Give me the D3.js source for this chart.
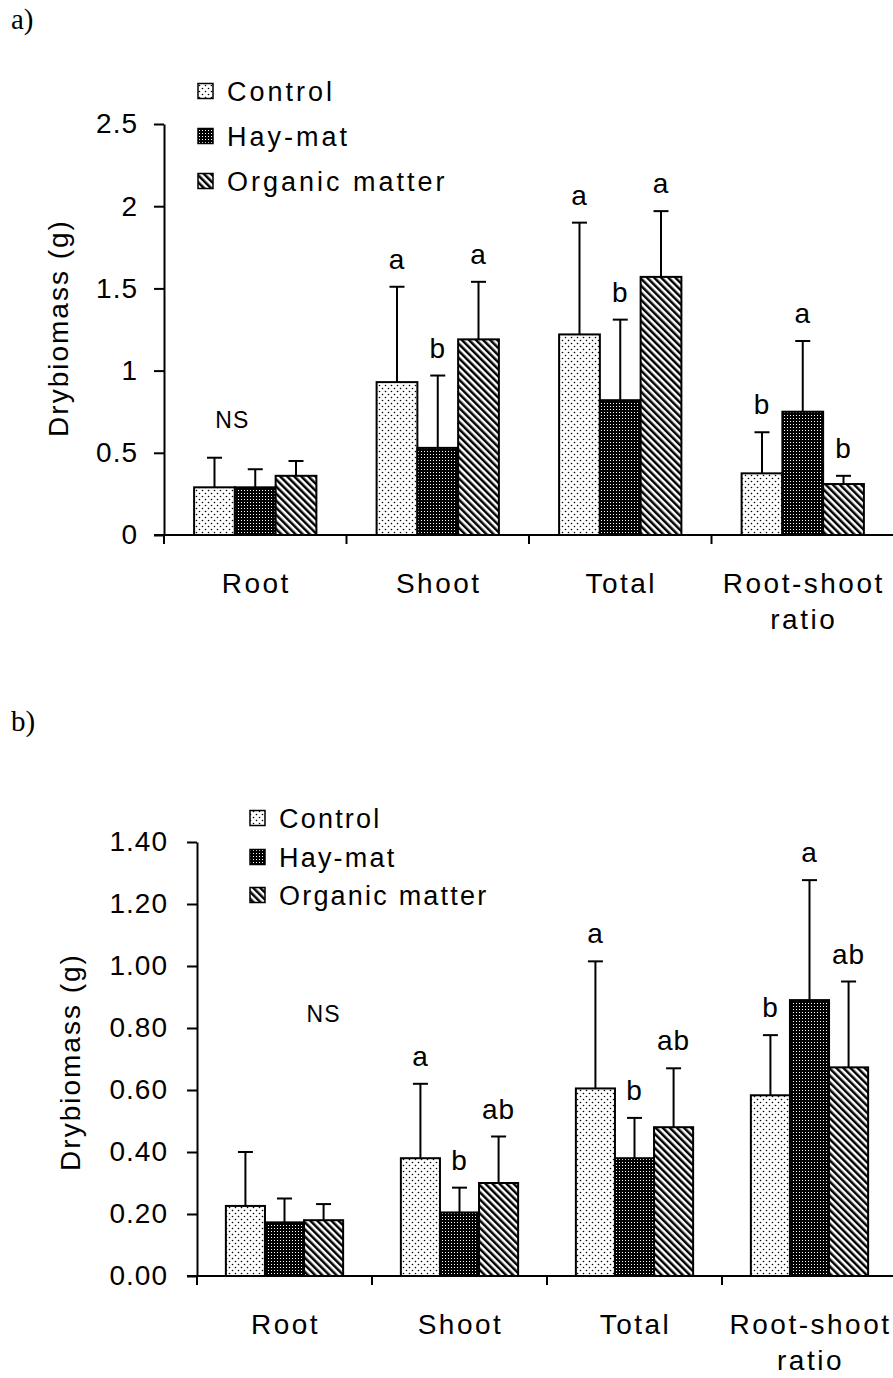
<!DOCTYPE html>
<html>
<head>
<meta charset="utf-8">
<script src="https://cdn.jsdelivr.net/npm/d3@7"></script>
<style>
  body { margin: 0; background: #fff; }
  text { font-family: "Liberation Sans", Arial, sans-serif; fill: #000; }
</style>
</head>
<body>
<div id="chart"></div>
<script>
var categories = ["Root", "Shoot", "Total", "Root-shoot ratio"];
var treatments = ["Control", "Hay-mat", "Organic matter"];

// panel a) values (mean and upper error)
var aControl = [0.29, 0.93, 1.22, 0.375];
var aControlErr = [0.18, 0.58, 0.68, 0.25];
var aHay = [0.29, 0.53, 0.82, 0.75];
var aHayErr = [0.11, 0.44, 0.49, 0.43];
var aOrganic = [0.36, 1.19, 1.57, 0.31];
var aOrganicErr = [0.09, 0.35, 0.40, 0.05];
var aControlSig = ["", "a", "a", "b"];
var aHaySig = ["", "b", "b", "a"];
var aOrganicSig = ["", "a", "a", "b"];
var aTicks = [0, 0.5, 1, 1.5, 2, 2.5];

// panel b)
var bControl = [0.226, 0.38, 0.605, 0.583];
var bControlErr = [0.174, 0.24, 0.41, 0.194];
var bHay = [0.173, 0.205, 0.38, 0.89];
var bHayErr = [0.077, 0.08, 0.13, 0.387];
var bOrganic = [0.18, 0.30, 0.48, 0.673];
var bOrganicErr = [0.052, 0.15, 0.19, 0.277];
var bControlSig = ["", "a", "a", "b"];
var bHaySig = ["", "b", "b", "a"];
var bOrganicSig = ["", "ab", "ab", "ab"];
var bTicks = [0, 0.2, 0.4, 0.6, 0.8, 1.0, 1.2, 1.4];

var patternIds = ["pDots", "pHay", "pStripes"];

var svg = d3.select("#chart").append("svg")
  .attr("width", 893)
  .attr("height", 1378);

svg.append("rect").attr("width", 893).attr("height", 1378).attr("fill", "#fff");

// fill patterns
var defs = svg.append("defs");
var pd = defs.append("pattern").attr("id", "pDots")
  .attr("patternUnits", "userSpaceOnUse").attr("width", 6).attr("height", 6);
pd.append("rect").attr("width", 6).attr("height", 6).attr("fill", "#fff");
pd.append("circle").attr("cx", 1.5).attr("cy", 1.5).attr("r", 0.8).attr("fill", "#000");
pd.append("circle").attr("cx", 4.5).attr("cy", 4.5).attr("r", 0.8).attr("fill", "#000");

var ph = defs.append("pattern").attr("id", "pHay")
  .attr("patternUnits", "userSpaceOnUse").attr("width", 3).attr("height", 3);
ph.append("rect").attr("width", 3).attr("height", 3).attr("fill", "#000");
ph.append("rect").attr("x", 1).attr("y", 1).attr("width", 1).attr("height", 1).attr("fill", "#fff");

var ps = defs.append("pattern").attr("id", "pStripes")
  .attr("patternUnits", "userSpaceOnUse").attr("width", 5).attr("height", 5)
  .attr("patternTransform", "rotate(-45)");
ps.append("rect").attr("width", 5).attr("height", 5).attr("fill", "#fff");
ps.append("rect").attr("width", 2.5).attr("height", 5).attr("fill", "#000");

function drawPanel(p) {
  var g = svg.append("g");

  var x = d3.scaleBand().domain(categories)
    .range([p.x0, p.xEnd]).paddingInner(0.33).paddingOuter(0.165);
  var xs = d3.scaleBand().domain(treatments).range([0, x.bandwidth()]);
  var y = d3.scaleLinear().domain([0, p.max]).range([p.y0, p.yTop]);

  // panel letter
  g.append("text").attr("x", 11).attr("y", p.labelY)
    .style("font-family", "'Liberation Serif', 'Times New Roman', serif")
    .style("font-size", "29px").text(p.label);

  // y axis
  var yAxis = g.append("g")
    .attr("transform", "translate(" + p.x0 + ",0)")
    .call(d3.axisLeft(y).tickValues(p.ticks).tickSize(10).tickSizeOuter(0)
      .tickPadding(p.tickPad).tickFormat(p.fmt));
  yAxis.selectAll("path, line").attr("stroke", "#000").attr("stroke-width", 2);
  yAxis.selectAll("text")
    .style("font-size", "28px").style("letter-spacing", "1px")
    .style("font-family", "'Liberation Sans', Arial, sans-serif");

  // x axis line and category boundary ticks
  g.append("line")
    .attr("x1", p.x0 - 10).attr("x2", p.xEnd)
    .attr("y1", p.y0).attr("y2", p.y0)
    .attr("stroke", "#000").attr("stroke-width", 2);
  var bounds = categories.map(function (c) { return x(c) - x.step() * x.paddingInner() / 2; });
  bounds.push(p.xEnd);
  g.selectAll(".bt").data(bounds).enter().append("line")
    .attr("x1", function (d) { return d; }).attr("x2", function (d) { return d; })
    .attr("y1", p.y0).attr("y2", p.y0 + 9)
    .attr("stroke", "#000").attr("stroke-width", 2);

  // category labels
  categories.forEach(function (c) {
    var lines = c === "Root-shoot ratio" ? ["Root-shoot", "ratio"] : [c];
    lines.forEach(function (t, i) {
      g.append("text")
        .attr("x", x(c) + x.bandwidth() / 2 + 1)
        .attr("y", p.catY + i * 36)
        .attr("text-anchor", "middle")
        .style("font-size", "28px").style("letter-spacing", "2.5px")
        .text(t);
    });
  });

  // y title
  g.append("text")
    .attr("transform", "translate(" + p.titleX + "," + p.titleY + ") rotate(-90)")
    .attr("text-anchor", "middle")
    .style("font-size", "28px").style("letter-spacing", "2px")
    .text("Drybiomass (g)");

  // bars
  var series = treatments.map(function (t, k) {
    return categories.map(function (c, i) {
      return { cat: c, tr: t, k: k, v: p.means[k][i], e: p.errs[k][i], sig: p.sigs[k][i] };
    });
  });
  var flat = [].concat.apply([], series);

  g.selectAll(".bar").data(flat).enter().append("rect")
    .attr("x", function (d) { return x(d.cat) + xs(d.tr); })
    .attr("y", function (d) { return y(d.v); })
    .attr("width", xs.bandwidth())
    .attr("height", function (d) { return p.y0 - y(d.v); })
    .attr("fill", function (d) { return "url(#" + patternIds[d.k] + ")"; })
    .attr("stroke", "#000").attr("stroke-width", 2);

  // error bars (upper only)
  var cx = function (d) { return x(d.cat) + xs(d.tr) + xs.bandwidth() / 2; };
  g.selectAll(".err").data(flat).enter().append("line")
    .attr("x1", cx).attr("x2", cx)
    .attr("y1", function (d) { return y(d.v); })
    .attr("y2", function (d) { return y(d.v + d.e); })
    .attr("stroke", "#000").attr("stroke-width", 2);
  g.selectAll(".cap").data(flat).enter().append("line")
    .attr("x1", function (d) { return cx(d) - 7.5; })
    .attr("x2", function (d) { return cx(d) + 7.5; })
    .attr("y1", function (d) { return y(d.v + d.e); })
    .attr("y2", function (d) { return y(d.v + d.e); })
    .attr("stroke", "#000").attr("stroke-width", 2);

  // significance letters
  g.selectAll(".sig").data(flat.filter(function (d) { return d.sig; })).enter().append("text")
    .attr("x", cx)
    .attr("y", function (d) { return y(d.v + d.e) - 18; })
    .attr("text-anchor", "middle")
    .style("font-size", "28px").style("letter-spacing", "1px")
    .text(function (d) { return d.sig; });

  g.append("text")
    .attr("x", x("Root") + x.bandwidth() / 2 + p.nsDx)
    .attr("y", y(p.nsY))
    .attr("text-anchor", "middle")
    .style("font-size", "23px").style("letter-spacing", "1px")
    .text("NS");

  // legend
  treatments.forEach(function (t, k) {
    var ly = p.legY[k];
    g.append("rect")
      .attr("x", p.legX).attr("y", ly - 7.5)
      .attr("width", 15).attr("height", 15)
      .attr("fill", "url(#" + patternIds[k] + ")")
      .attr("stroke", "#000").attr("stroke-width", 1.5);
    g.append("text")
      .attr("x", p.legX + 29).attr("y", ly).attr("dy", "0.36em")
      .style("font-size", "27px").style("letter-spacing", p.legSpacing)
      .text(t);
  });
}

drawPanel({
  label: "a)", labelY: 29,
  x0: 164, xEnd: 894, y0: 535, yTop: 124, max: 2.5,
  ticks: aTicks, fmt: d3.format(""), tickPad: 16,
  catY: 593, titleX: 68, titleY: 328,
  means: [aControl, aHay, aOrganic],
  errs: [aControlErr, aHayErr, aOrganicErr],
  sigs: [aControlSig, aHaySig, aOrganicSig],
  nsDx: -23, nsY: 0.65,
  legX: 198, legY: [91, 136, 181], legSpacing: "3px"
});

drawPanel({
  label: "b)", labelY: 731,
  x0: 197, xEnd: 897, y0: 1276, yTop: 842, max: 1.4,
  ticks: bTicks, fmt: d3.format(".2f"), tickPad: 19,
  catY: 1334, titleX: 80, titleY: 1062,
  means: [bControl, bHay, bOrganic],
  errs: [bControlErr, bHayErr, bOrganicErr],
  sigs: [bControlSig, bHaySig, bOrganicSig],
  nsDx: 39, nsY: 0.82,
  legX: 250, legY: [818, 857, 895], legSpacing: "2.2px"
});
</script>
</body>
</html>
